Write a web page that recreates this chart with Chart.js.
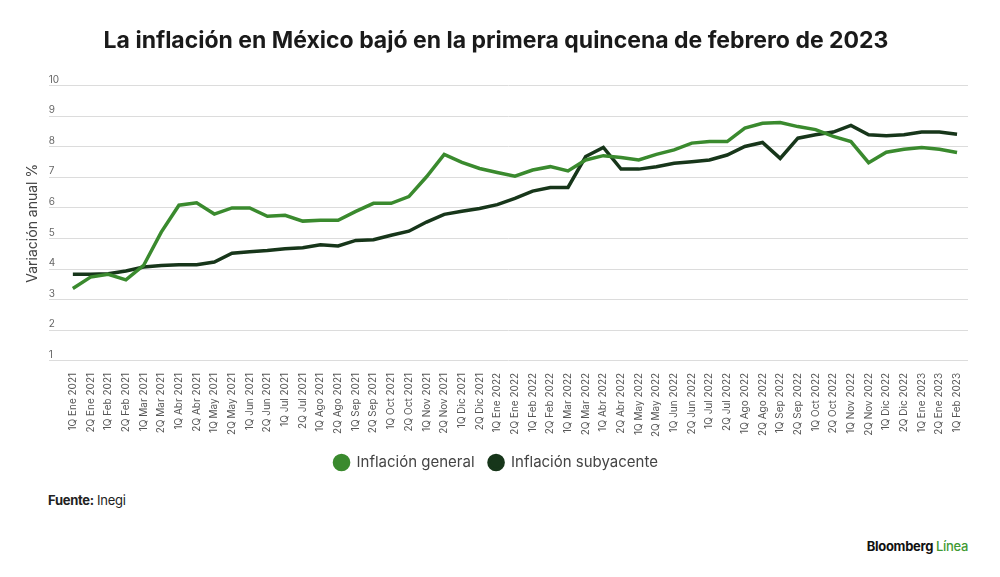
<!DOCTYPE html>
<html>
<head>
<meta charset="utf-8">
<script src="https://cdn.jsdelivr.net/npm/chart.js@4.4.0/dist/chart.umd.min.js"></script>
<style>
  body { margin: 0; background: #fff; font-family: Inter, "Noto Sans", sans-serif; }
  #wrap { position: relative; width: 1000px; height: 577px; }
  #chartBox { position: absolute; left: 0; top: 0; width: 1000px; height: 488px; }
  #fuente { position: absolute; left: 48px; top: 492px; font-size: 13px; color: #222; letter-spacing: -0.3px; }
  #fuente b { font-weight: 700; }
  #marca { position: absolute; right: 32px; top: 538px; font-size: 13px; font-weight: 700; color: #111; letter-spacing: -0.3px; }
  #marca span { color: #3f9a33; font-weight: 500; }
</style>
</head>
<body>
<div id="wrap">
  <div id="chartBox"><canvas id="inflacion"></canvas></div>
  <div id="fuente"><b>Fuente:</b> Inegi</div>
  <div id="marca">Bloomberg <span>Línea</span></div>
</div>
<script>
var periodos = [
  "1Q Ene 2021", "2Q Ene 2021", "1Q Feb 2021", "2Q Feb 2021", "1Q Mar 2021", "2Q Mar 2021",
  "1Q Abr 2021", "2Q Abr 2021", "1Q May 2021", "2Q May 2021", "1Q Jun 2021", "2Q Jun 2021",
  "1Q Jul 2021", "2Q Jul 2021", "1Q Ago 2021", "2Q Ago 2021", "1Q Sep 2021", "2Q Sep 2021",
  "1Q Oct 2021", "2Q Oct 2021", "1Q Nov 2021", "2Q Nov 2021", "1Q Dic 2021", "2Q Dic 2021",
  "1Q Ene 2022", "2Q Ene 2022", "1Q Feb 2022", "2Q Feb 2022", "1Q Mar 2022", "2Q Mar 2022",
  "1Q Abr 2022", "2Q Abr 2022", "1Q May 2022", "2Q May 2022", "1Q Jun 2022", "2Q Jun 2022",
  "1Q Jul 2022", "2Q Jul 2022", "1Q Ago 2022", "2Q Ago 2022", "1Q Sep 2022", "2Q Sep 2022",
  "1Q Oct 2022", "2Q Oct 2022", "1Q Nov 2022", "2Q Nov 2022", "1Q Dic 2022", "2Q Dic 2022",
  "1Q Ene 2023", "2Q Ene 2023", "1Q Feb 2023"
];

var general = [
  3.37, 3.74, 3.83, 3.65, 4.12, 5.21, 6.09, 6.17, 5.80, 6.00, 6.00, 5.73,
  5.76, 5.57, 5.60, 5.60, 5.89, 6.15, 6.15, 6.37, 7.02, 7.75, 7.49, 7.29,
  7.16, 7.04, 7.24, 7.35, 7.21, 7.57, 7.71, 7.65, 7.57, 7.75, 7.90, 8.12,
  8.17, 8.17, 8.61, 8.77, 8.79, 8.66, 8.56, 8.34, 8.17, 7.48, 7.82, 7.92,
  7.98, 7.92, 7.81
];

var subyacente = [
  3.83, 3.83, 3.85, 3.94, 4.07, 4.12, 4.14, 4.14, 4.23, 4.52, 4.57, 4.61,
  4.67, 4.70, 4.80, 4.76, 4.94, 4.96, 5.11, 5.24, 5.54, 5.79, 5.89, 5.98,
  6.11, 6.31, 6.55, 6.67, 6.67, 7.68, 7.98, 7.27, 7.27, 7.35, 7.46, 7.51,
  7.57, 7.73, 8.01, 8.14, 7.62, 8.28, 8.39, 8.48, 8.70, 8.39, 8.36, 8.39,
  8.48, 8.48, 8.41
];

var yTicks = [1, 2, 3, 4, 5, 6, 7, 8, 9, 10];

function puntos(serie) {
  return serie.map(function (v, i) { return { x: i, y: v }; });
}

var ctx = document.getElementById('inflacion').getContext('2d');
var chart = new Chart(ctx, {
  type: 'line',
  data: {
    datasets: [
      {
        label: 'Inflación general',
        data: puntos(general),
        borderColor: '#3a8a2e',
        backgroundColor: '#3a8a2e',
        borderWidth: 3.5,
        pointRadius: 0,
        tension: 0
      },
      {
        label: 'Inflación subyacente',
        data: puntos(subyacente),
        borderColor: '#17361a',
        backgroundColor: '#17361a',
        borderWidth: 3.5,
        pointRadius: 0,
        tension: 0
      }
    ]
  },
  options: {
    responsive: true,
    maintainAspectRatio: false,
    animation: false,
    layout: { padding: { left: 24, right: 32, top: 0, bottom: 8 } },
    plugins: {
      title: {
        display: true,
        text: 'La inflación en México bajó en la primera quincena de febrero de 2023',
        color: '#1a1a1a',
        font: { family: 'Inter', size: 23, weight: '700' },
        padding: { top: 27, bottom: 31 }
      },
      legend: {
        position: 'bottom',
        labels: {
          usePointStyle: true,
          pointStyle: 'circle',
          boxHeight: 10,
          color: '#444',
          font: { family: 'Inter', size: 15 },
          padding: 14
        }
      },
      tooltip: { enabled: false }
    },
    scales: {
      x: {
        type: 'linear',
        min: -1.36,
        max: 50.62,
        grid: { display: false },
        border: { display: false },
        ticks: {
          stepSize: 1,
          autoSkip: false,
          includeBounds: false,
          minRotation: 90,
          maxRotation: 90,
          color: '#555',
          font: { family: 'Inter', size: 10 },
          padding: 4,
          callback: function (v) {
            return Number.isInteger(v) && periodos[v] ? periodos[v] : '';
          }
        }
      },
      y: {
        min: 1,
        max: 10,
        afterBuildTicks: function (axis) {
          axis.ticks = yTicks.map(function (v) { return { value: v }; });
        },
        grid: { color: '#dcdcdc', lineWidth: 1, drawTicks: false },
        border: { display: false },
        ticks: {
          mirror: true,
          labelOffset: -6,
          padding: 0,
          color: '#666',
          font: { family: 'Inter', size: 10 }
        },
        title: {
          display: true,
          text: 'Variación anual %',
          color: '#444',
          font: { family: 'Inter', size: 14 },
          padding: { top: 0, bottom: 8 }
        }
      }
    }
  }
});
</script>
</body>
</html>
